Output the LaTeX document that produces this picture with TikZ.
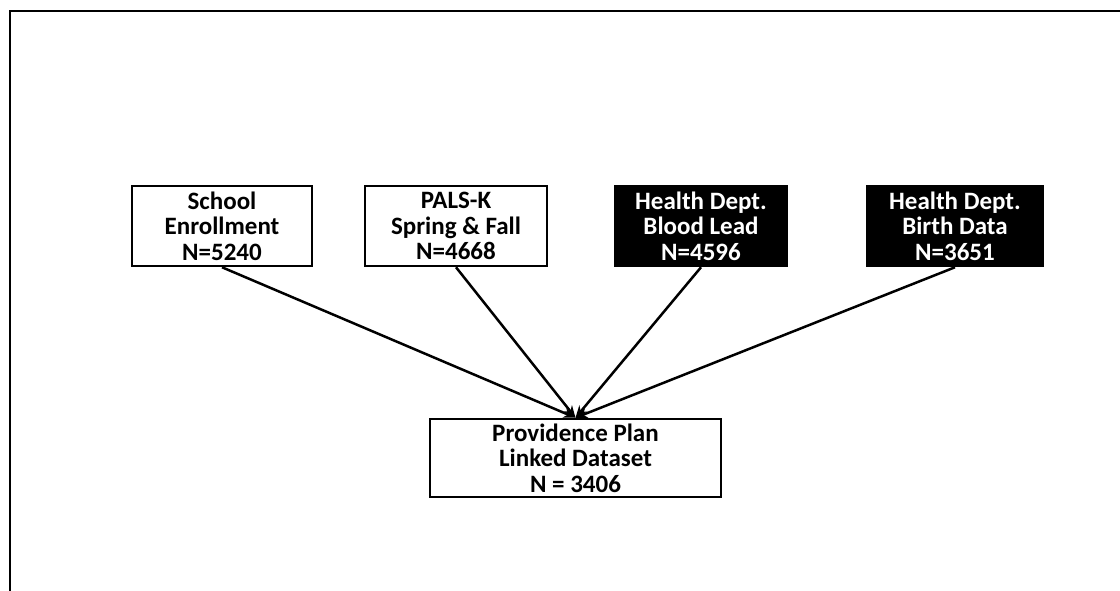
\documentclass[tikz,border=0pt]{standalone}
\usepackage{fontspec}
\setmainfont{Carlito}
\usetikzlibrary{arrows.meta}
\begin{document}
\begin{tikzpicture}[x=1pt,y=-1pt,
  box/.style={draw=black, line width=2.5pt, align=center, inner sep=0pt,
    font=\fontsize{25}{25.5}\selectfont\bfseries, minimum height=80pt},
  whitebox/.style={box, fill=white, text=black},
  darkbox/.style={box, fill=black, text=white},
  link/.style={line width=2.5pt, -{Stealth[length=12pt,width=10pt]}}]
\useasboundingbox (0,0) rectangle (1120,591);
\draw[line width=2.5pt] (10,591) -- (10,11) -- (1120,11);
\node[whitebox, minimum width=180pt] (school) at (222,226) {School\\Enrollment\\N=5240};
\node[whitebox, minimum width=182pt] (pals) at (456,226) {PALS-K\\Spring \& Fall\\N=4668};
\node[darkbox, minimum width=172pt] (lead) at (701,226) {Health Dept.\\Blood Lead\\N=4596};
\node[darkbox, minimum width=176pt] (birth) at (955,226) {Health Dept.\\Birth Data\\N=3651};
\node[whitebox, minimum width=291pt, minimum height=78pt] (pp) at (575.5,458) {Providence Plan\\Linked Dataset\\N = 3406};
\foreach \s in {school,pals,lead,birth}
  \draw[link] (\s.south) -- (pp.north);
\end{tikzpicture}
\end{document}
